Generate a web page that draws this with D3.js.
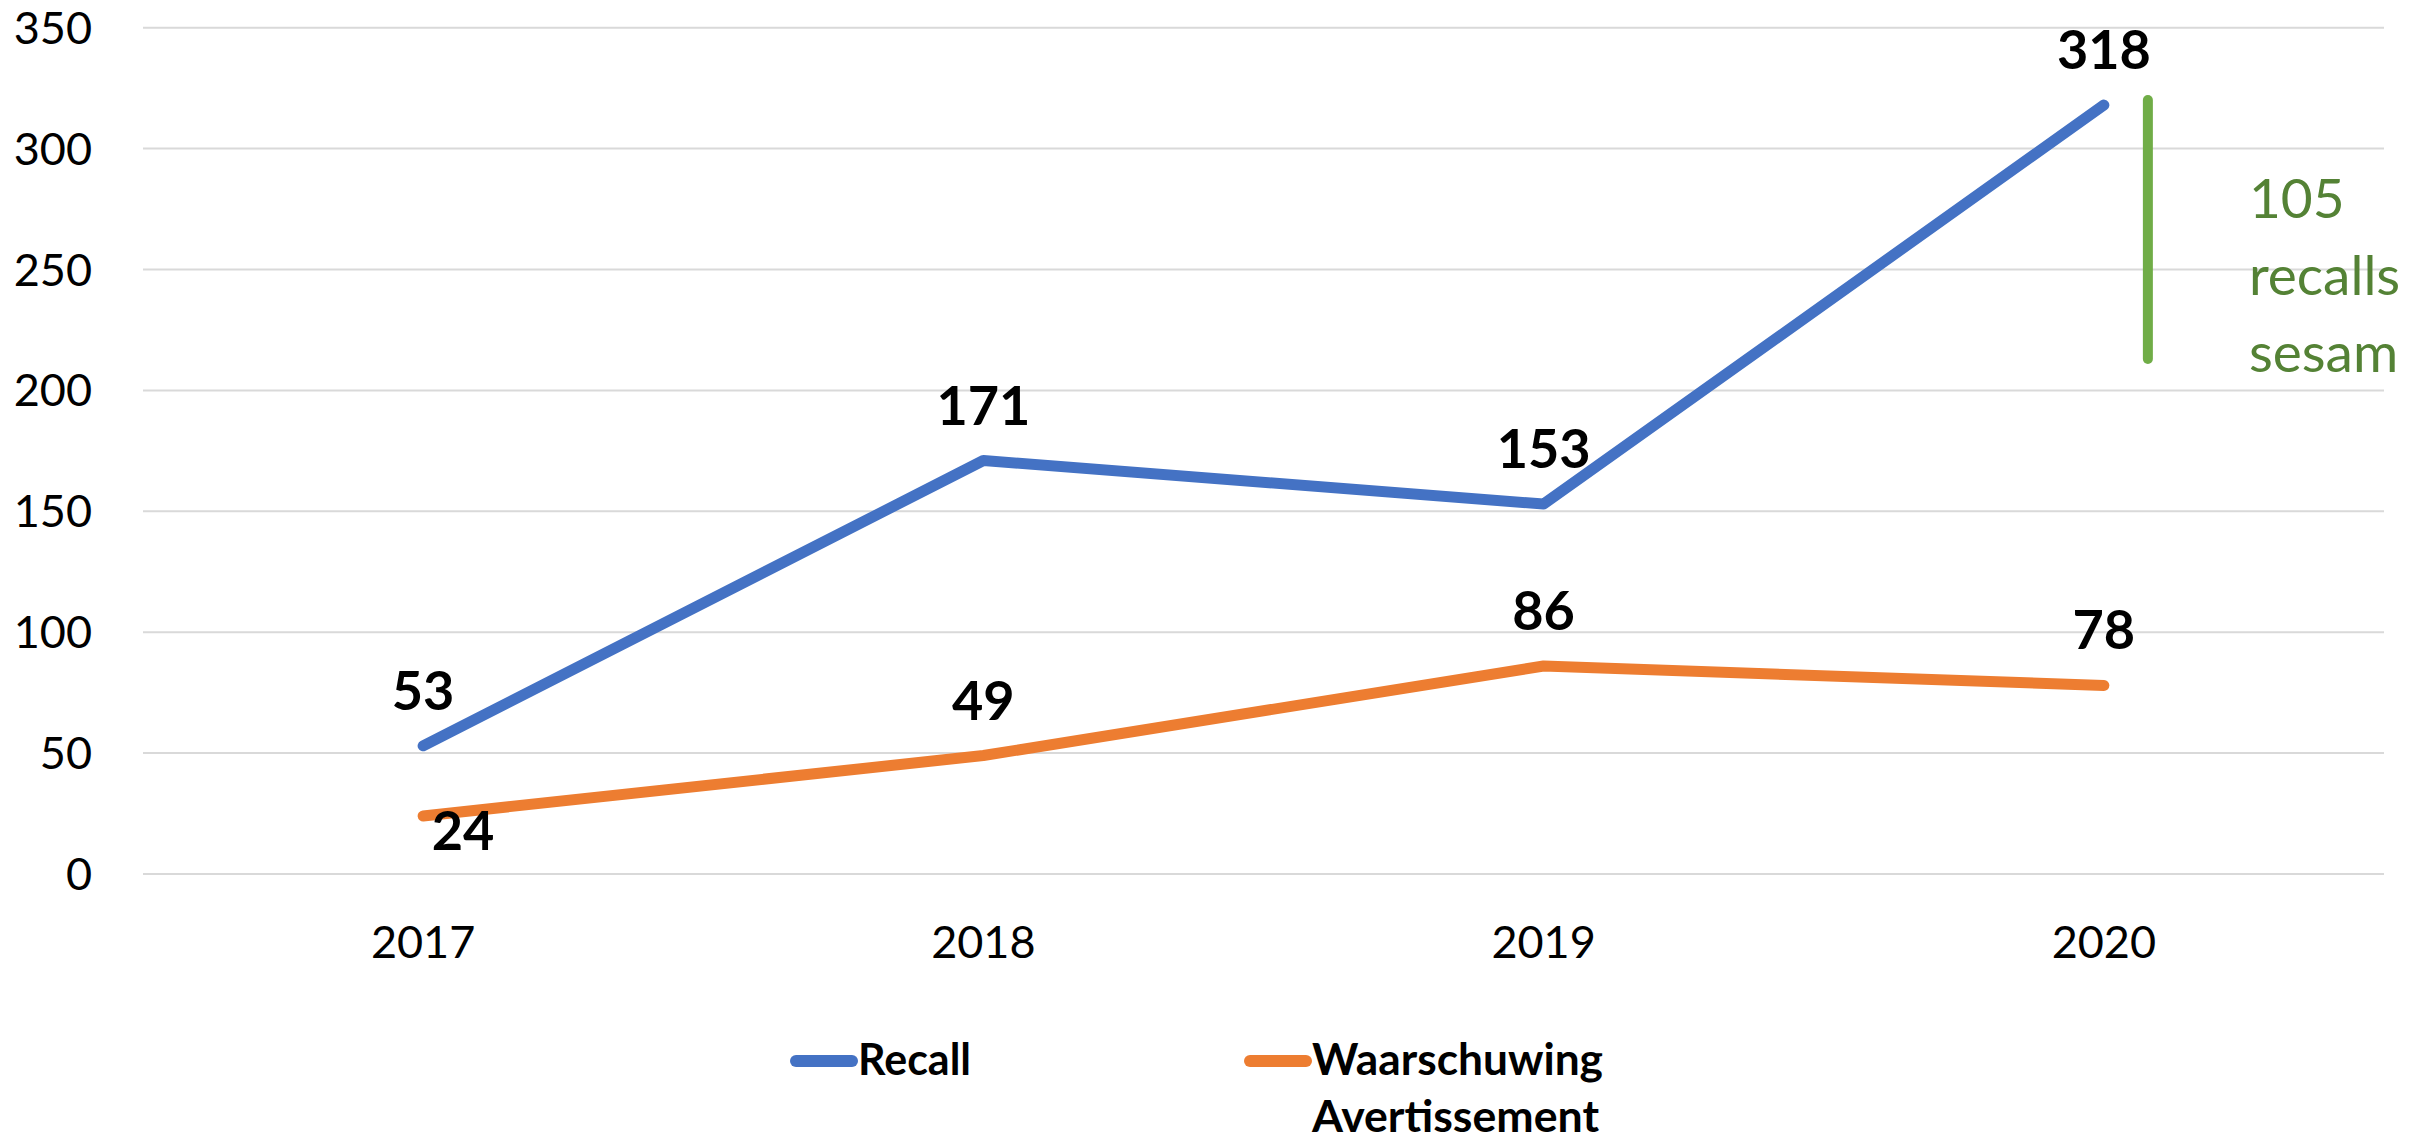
<!DOCTYPE html>
<html>
<head>
<meta charset="utf-8">
<script src="https://cdn.jsdelivr.net/npm/d3@7"></script>
<style>
  body { margin: 0; background: #fff; }
  svg { display: block; font-family: Lato, "Open Sans", sans-serif; }
</style>
</head>
<body>
<svg width="2432" height="1139"></svg>
<script>
let svg = d3.select("svg");

// data
let years = ["2017", "2018", "2019", "2020"];
let recall = [53, 171, 153, 318];
let waarschuwing = [24, 49, 86, 78];
let yTicks = [0, 50, 100, 150, 200, 250, 300, 350];
let sesamRecalls = 105;

let blue = "#4472C4";
let orange = "#ED7D31";
let green = "#70AD47";
let greenText = "#548235";

//plot area (named so it doesn't clash with window.top)
let plotLeft = 143, plotRight = 2384, plotTop = 27.7, plotBottom = 874;

let x = d3.scalePoint().domain(years).range([plotLeft, plotRight]).padding(0.5);
let y = d3.scaleLinear().domain([0, 350]).range([plotBottom, plotTop]);

//gridlines
svg.append("g").selectAll("line")
    .data(yTicks).enter().append("line")
        .attr("x1", plotLeft).attr("x2", plotRight)
        .attr("y1", d => y(d)).attr("y2", d => y(d))
        .attr("stroke", "#d9d9d9")
        .attr("stroke-width", 2);

//y labels
svg.append("g").selectAll("text")
    .data(yTicks).enter().append("text")
        .attr("x", 92)
        .attr("y", d => y(d) + 16)
        .attr("text-anchor", "end")
        .attr("font-size", 45)
        .attr("fill", "#000")
        .text(d => d);

//x labels
svg.append("g").selectAll("text")
    .data(years).enter().append("text")
        .attr("x", d => x(d))
        .attr("y", 958)
        .attr("text-anchor", "middle")
        .attr("font-size", 45)
        .attr("fill", "#000")
        .text(d => d);

let line = d3.line()
    .x((d, i) => x(years[i]))
    .y(d => y(d));

function drawSeries(values, color){
    svg.append("path")
        .datum(values)
        .attr("d", line)
        .attr("fill", "none")
        .attr("stroke", color)
        .attr("stroke-width", 11)
        .attr("stroke-linecap", "round")
        .attr("stroke-linejoin", "round");
}
drawSeries(waarschuwing, orange);
drawSeries(recall, blue);

//data labels
function drawLabels(values, special){
    svg.append("g").selectAll("text")
        .data(values).enter().append("text")
            .attr("x", (d, i) => x(years[i]) + (special && special[i] ? special[i].dx : 0))
            .attr("y", (d, i) => y(d) + (special && special[i] ? special[i].dy : -36))
            .attr("text-anchor", "middle")
            .attr("font-size", 54)
            .attr("font-weight", "bold")
            .attr("fill", "#000")
            .text(d => d);
}
drawLabels(recall);
drawLabels(waarschuwing, {0: {dx: 40, dy: 34}});

//green bracket for sesam recalls
let last = years[years.length - 1];
let bx = x(last) + 44;
svg.append("line")
    .attr("x1", bx).attr("x2", bx)
    .attr("y1", y(recall[3]) - 5)
    .attr("y2", y(recall[3] - sesamRecalls))
    .attr("stroke", green)
    .attr("stroke-width", 10)
    .attr("stroke-linecap", "round");

let note = svg.append("text")
    .attr("x", bx + 101)
    .attr("y", 218)
    .attr("font-size", 55)
    .attr("fill", greenText);
[sesamRecalls + "", "recalls", "sesam"].forEach((t, i) => {
    note.append("tspan")
        .attr("x", bx + 101)
        .attr("dy", i === 0 ? 0 : 77)
        .text(t);
});

//legend
let legendItems = [
    {name: ["Recall"], color: blue, x: 796, widths: [113]},
    {name: ["Waarschuwing", "Avertissement"], color: orange, x: 1250, widths: [291, 287]}
];
let legend = svg.append("g").selectAll("g")
    .data(legendItems).enter().append("g");
legend.append("line")
    .attr("x1", d => d.x).attr("x2", d => d.x + 56)
    .attr("y1", 1061).attr("y2", 1061)
    .attr("stroke", d => d.color)
    .attr("stroke-width", 12)
    .attr("stroke-linecap", "round");
legend.each(function(d){
    d.name.forEach((t, i) => {
        d3.select(this).append("text")
            .attr("x", d.x + 62)
            .attr("y", 1075 + i * 57)
            .attr("font-size", 44)
            .attr("font-weight", "bold")
            .attr("fill", "#000")
            .attr("textLength", d.widths[i])
            .attr("lengthAdjust", "spacingAndGlyphs")
            .text(t);
    });
});
</script>
</body>
</html>
